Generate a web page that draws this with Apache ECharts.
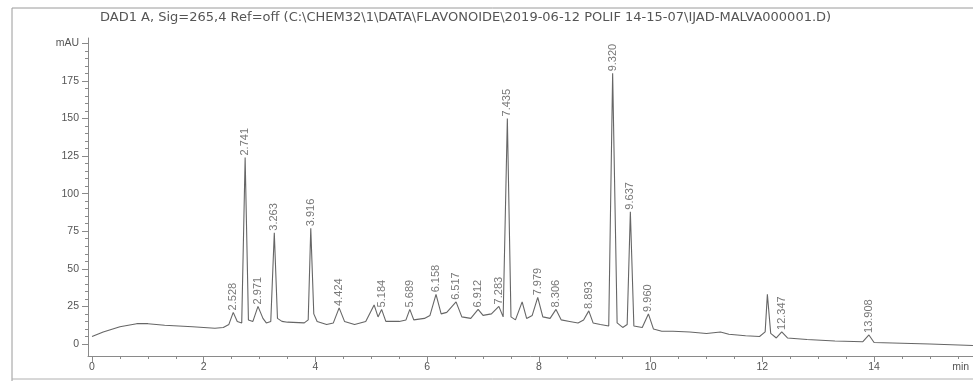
<!DOCTYPE html>
<html>
<head>
<meta charset="utf-8">
<script src="https://cdn.jsdelivr.net/npm/echarts@6/dist/echarts.min.js"></script>
<style>
  html, body { margin: 0; padding: 0; background: #fff; }
  #chart { width: 973px; height: 381px; }
</style>
</head>
<body>
<div id="chart"></div>
<script>
// Signal header of the DAD trace
const titleText = 'DAD1 A, Sig=265,4 Ref=off (C:\\CHEM32\\1\\DATA\\FLAVONOIDE\\2019-06-12 POLIF 14-15-07\\IJAD-MALVA000001.D)';

// Integrated peaks: retention time (min) and apex absorbance (mAU)
const peakRt     = [2.528, 2.741, 2.971, 3.263, 3.916, 4.424, 5.184, 5.689, 6.158, 6.517, 6.912, 7.283, 7.435, 7.979, 8.306, 8.893, 9.320, 9.637, 9.960, 12.347, 13.908];
const peakHeight = [21,    124,   25,    74,    77,    24,    23,    23,    33,    28,    23,    25,    150,   31,    23,    22,    180,   88,    20,    8,      6];

// Trace between the labelled apexes: time (min)
const traceTime = [0, 0.2, 0.5, 0.8, 1.0, 1.3, 1.8, 2.2, 2.35, 2.45, 2.6, 2.68, 2.8, 2.88, 3.06, 3.12, 3.2, 3.32, 3.4, 3.5, 3.8, 3.87, 3.97, 4.03, 4.2, 4.32, 4.52, 4.7, 4.9, 5.05, 5.12, 5.26, 5.5, 5.62, 5.76, 5.95, 6.05, 6.25, 6.35, 6.62, 6.78, 7.0, 7.15, 7.36, 7.5, 7.58, 7.7, 7.78, 7.88, 8.07, 8.2, 8.4, 8.55, 8.7, 8.8, 8.97, 9.1, 9.25, 9.4, 9.5, 9.58, 9.7, 9.85, 10.05, 10.2, 10.4, 10.7, 11.0, 11.25, 11.4, 11.7, 11.95, 12.05, 12.09, 12.15, 12.25, 12.45, 12.8, 13.3, 13.8, 14.0, 14.5, 15.0, 15.77];
// Trace between the labelled apexes: absorbance (mAU)
const traceValue = [5, 8, 11.5, 13.5, 13.5, 12.5, 11.5, 10.5, 11, 13, 15, 14, 16, 15, 17, 14, 15, 17, 15, 14.5, 14, 16, 20, 15, 13, 14, 15, 13, 15, 26, 18, 15, 15, 16, 16, 17, 19, 20, 21, 18, 17, 19, 20, 18, 18, 16, 28, 17, 19, 18, 17, 16, 15, 14, 16, 14, 13, 12, 14, 11, 13, 12, 11, 10, 8.5, 8.5, 8, 7, 8, 6.5, 5.5, 5, 8, 33, 7, 4, 4, 3, 2, 1.5, 1, 0.5, 0, -1];

// Axis tick values
const yMajorTicks = [0, 25, 50, 75, 100, 125, 150, 175, 200];
const xMajorTicks = [0, 2, 4, 6, 8, 10, 12, 14];
const xUnitPos = 15.55;

// Merge trace and apex points into one time-ordered signal
const trace = traceTime.map((t, i) => [t, traceValue[i]])
  .concat(peakRt.map((t, i) => [t, peakHeight[i]]))
  .sort((a, b) => a[0] - b[0]);

const yMinorTicks = [];
for (let v = 0; v <= 200; v += 5) yMinorTicks.push(v);
const xMinorTicks = [];
for (let v = 0; v <= 15.5; v += 0.5) xMinorTicks.push(v);

const X_MIN = -0.072, X_MAX = 15.771;
const Y_MIN = -8.0, Y_MAX = 203.5;
const ink = '#555555';
const axisInk = '#8a8a8a';
const font = 'Liberation Sans, Arial, sans-serif';
const wideFont = 'DejaVu Sans, Verdana, sans-serif';

const chart = echarts.init(document.getElementById('chart'), null, { renderer: 'canvas' });
chart.setOption({
  animation: false,
  backgroundColor: '#fff',
  title: {
    text: titleText,
    left: 95, top: 6,
    textStyle: { fontSize: 13, fontWeight: 'normal', color: ink, fontFamily: wideFont }
  },
  grid: { left: 88, right: 0, top: 38, bottom: 25, containLabel: false },
  xAxis: [
    {
      type: 'value', min: X_MIN, max: X_MAX, position: 'bottom',
      axisLine: { show: true, onZero: false, lineStyle: { color: axisInk, width: 1 } },
      axisTick: { show: true, customValues: xMinorTicks, length: 3, lineStyle: { color: axisInk } },
      axisLabel: { show: false },
      splitLine: { show: false }
    },
    {
      type: 'value', min: X_MIN, max: X_MAX, position: 'bottom',
      axisLine: { show: false, onZero: false },
      axisTick: { show: true, customValues: xMajorTicks, length: 6, lineStyle: { color: axisInk } },
      axisLabel: {
        show: true, customValues: xMajorTicks.concat([xUnitPos]), margin: 6,
        color: ink, fontSize: 10.5, fontFamily: font,
        formatter: v => (v > 15 ? 'min' : String(v))
      },
      splitLine: { show: false }
    }
  ],
  yAxis: [
    {
      type: 'value', min: Y_MIN, max: Y_MAX,
      axisLine: { show: true, onZero: false, lineStyle: { color: axisInk, width: 1 } },
      axisTick: { show: true, customValues: yMinorTicks, length: 3, lineStyle: { color: axisInk } },
      axisLabel: { show: false },
      splitLine: { show: false }
    },
    {
      type: 'value', min: Y_MIN, max: Y_MAX, position: 'left',
      axisLine: { show: false, onZero: false },
      axisTick: { show: true, customValues: yMajorTicks, length: 6, lineStyle: { color: axisInk } },
      axisLabel: {
        show: true, customValues: yMajorTicks, margin: 9,
        color: ink, fontSize: 10.5, fontFamily: font,
        formatter: v => (v === 200 ? 'mAU' : String(v))
      },
      splitLine: { show: false }
    }
  ],
  graphic: [
    { type: 'line', shape: { x1: 12, y1: 8, x2: 973, y2: 8 }, style: { stroke: '#9a9a9a', lineWidth: 1 } },
    { type: 'line', shape: { x1: 12, y1: 8, x2: 12, y2: 381 }, style: { stroke: '#9a9a9a', lineWidth: 1 } },
    { type: 'line', shape: { x1: 12, y1: 379, x2: 973, y2: 379 }, style: { stroke: '#b0b0b0', lineWidth: 1 } }
  ],
  series: [
    {
      type: 'line', xAxisIndex: 0, yAxisIndex: 0,
      data: trace, showSymbol: false, smooth: false,
      lineStyle: { color: '#666666', width: 1.1 }
    },
    {
      type: 'scatter', xAxisIndex: 0, yAxisIndex: 0,
      data: peakRt.map((t, i) => [t, peakHeight[i]]),
      symbolSize: 0,
      label: {
        show: true, position: 'top', distance: 2, rotate: 90,
        align: 'left', verticalAlign: 'middle',
        color: ink, fontSize: 11, fontFamily: font,
        formatter: p => p.value[0].toFixed(3)
      }
    }
  ]
});
</script>
</body>
</html>
